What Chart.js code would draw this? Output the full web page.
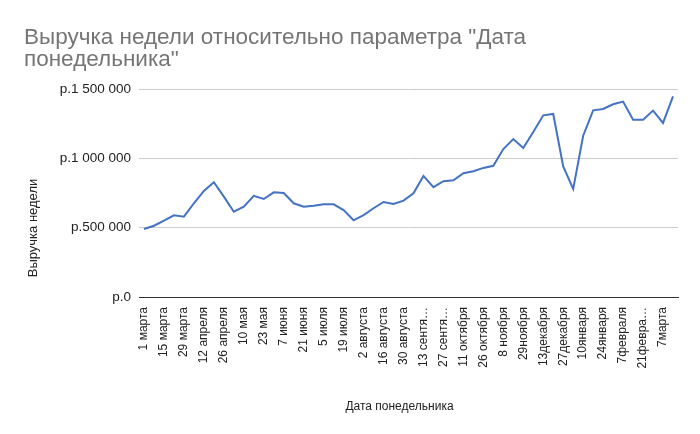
<!DOCTYPE html>
<html>
<head>
<meta charset="utf-8">
<script src="https://cdn.jsdelivr.net/npm/chart.js@4/dist/chart.umd.min.js"></script>
<style>
html,body{margin:0;padding:0;background:#fff;}
#wrap{width:700px;height:434px;position:relative;}
</style>
</head>
<body>
<div id="wrap"><canvas id="c" width="700" height="434"></canvas></div>
<script>
const titleLines = ['Выручка недели относительно параметра "Дата', 'понедельника"'];
const xTitle = 'Дата понедельника';
const yTitle = 'Выручка недели';

const categories = [
  '1 марта','8 марта','15 марта','22 марта','29 марта','5 апреля','12 апреля','19 апреля','26 апреля','3 мая',
  '10 мая','17 мая','23 мая','31 мая','7 июня','14 июня','21 июня','28 июня','5 июля','12 июля',
  '19 июля','26 июля','2 августа','9 августа','16 августа','23 августа','30 августа','6 сентября','13 сентября','20 сентября',
  '27 сентября','4 октября','11 октября','18 октября','26 октября','1 ноября','8 ноября','22ноября','29ноября','6декабря',
  '13декабря','20декабря','27декабря','3января','10января','17января','24января','31января','7февраля','14февраля',
  '21февраля','28февраля','7марта','14марта'
];

const tickLabels = [
  '1 марта','15 марта','29 марта','12 апреля','26 апреля','10 мая','23 мая','7 июня','21 июня','5 июля',
  '19 июля','2 августа','16 августа','30 августа','13 сентя…','27 сентя…','11 октября','26 октября','8 ноября','29ноября',
  '13декабря','27декабря','10января','24января','7февраля','21февра…','7марта'
];

const revenue = [
  490000, 514000, 550000, 589000, 579000, 676000, 765000, 828000, 724000, 615000,
  651000, 729000, 707000, 755000, 750000, 676000, 651000, 658000, 668000, 668000,
  627000, 553000, 591000, 640000, 685000, 671000, 695000, 748000, 873000, 792000,
  835000, 842000, 893000, 907000, 931000, 946000, 1067000, 1139000, 1074000, 1190000,
  1310000, 1320000, 941000, 779000, 1163000, 1346000, 1356000, 1390000, 1409000, 1279000,
  1279000, 1344000, 1255000, 1447000
];

const yTicks = [0, 500000, 1000000, 1500000];

const FONT = '"Liberation Sans", Arial, sans-serif';
Chart.defaults.font.family = FONT;

function fmtRub(v) {
  return 'р.' + String(v).replace(/\B(?=(\d{3})+(?!\d))/g, ' ');
}

const textPlugin = {
  id: 'texts',
  afterDraw(chart) {
    const ctx = chart.ctx;
    const area = chart.chartArea;
    ctx.save();
    ctx.fillStyle = '#757575';
    ctx.font = '22.5px ' + FONT;
    ctx.textAlign = 'left';
    ctx.textBaseline = 'alphabetic';
    ctx.fillText(titleLines[0], 24, 44);
    ctx.fillText(titleLines[1], 24, 66);

    ctx.fillStyle = '#222';
    ctx.font = '12px ' + FONT;
    ctx.textAlign = 'center';
    ctx.fillText(xTitle, (area.left + area.right) / 2 - 9, 410);

    ctx.translate(33, 228);
    ctx.rotate(-Math.PI / 2);
    ctx.font = '13px ' + FONT;
    ctx.textBaseline = 'middle';
    ctx.fillText(yTitle, 0, 0);
    ctx.restore();
  }
};

new Chart(document.getElementById('c'), {
  type: 'line',
  data: {
    labels: categories,
    datasets: [{
      data: revenue,
      borderColor: '#4472C4',
      borderWidth: 2,
      pointRadius: 0,
      pointHoverRadius: 0,
      tension: 0,
      fill: false
    }]
  },
  options: {
    responsive: false,
    animation: false,
    devicePixelRatio: 1,
    layout: { padding: { left: 0, top: 89, right: 22, bottom: 0 } },
    plugins: {
      legend: { display: false },
      title: { display: false },
      tooltip: { enabled: false }
    },
    scales: {
      x: {
        type: 'category',
        offset: true,
        afterFit(s) { s.height = 137; },
        grid: { display: false },
        border: { display: true, color: '#333', width: 1 },
        ticks: {
          autoSkip: false,
          maxRotation: 90,
          minRotation: 90,
          padding: 2,
          color: '#222',
          font: { size: 12, family: FONT },
          callback(v, i) { return i % 2 === 0 ? tickLabels[i / 2] : ''; }
        }
      },
      y: {
        min: 0,
        max: 1500000,
        afterFit(s) { s.width = 139; },
        afterBuildTicks(s) { s.ticks = yTicks.map(v => ({ value: v })); },
        grid: { color: '#cccccc', drawTicks: false, lineWidth: 1 },
        border: { display: false },
        ticks: {
          padding: 8,
          color: '#222',
          font: { size: 13.5, family: FONT },
          callback(v) { return fmtRub(v); }
        }
      }
    }
  },
  plugins: [textPlugin]
});
</script>
</body>
</html>
